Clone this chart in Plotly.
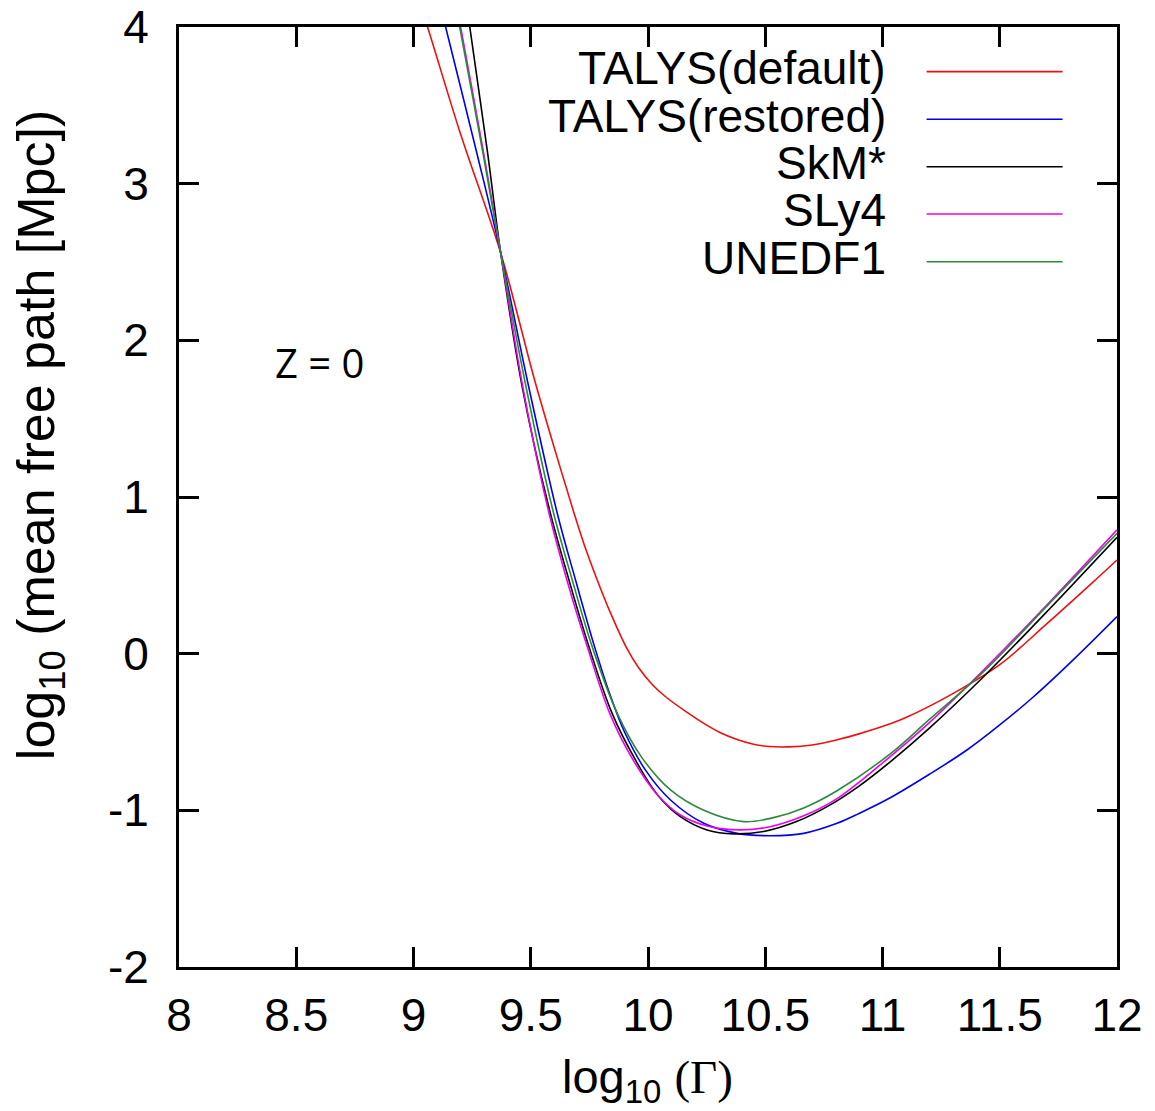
import plotly.graph_objects as go

# ---------------- data (log10 Gamma, log10 mean free path [Mpc]) ----------------
series_names = ["TALYS(default)", "TALYS(restored)", "SkM*", "SLy4", "UNEDF1"]
series_colors = ["#f01010", "#0000ee", "#000000", "#ee00ee", "#2a8a3a"]

talys_default_x = [9.00, 9.06, 9.20, 9.372, 9.514, 9.599, 9.684, 9.727, 9.781, 9.840, 9.911,
                   9.960, 10.020, 10.075, 10.167, 10.238, 10.309, 10.380, 10.450, 10.520,
                   10.600, 10.700, 10.806, 10.900, 11.033, 11.100, 11.300, 11.500, 11.700,
                   11.900, 12.0]
talys_default_y = [4.28, 4.00, 3.32, 2.557, 1.760, 1.321, 0.900, 0.700, 0.480, 0.260, 0.030,
                   -0.090, -0.200, -0.275, -0.375, -0.445, -0.505, -0.548, -0.578, -0.593,
                   -0.595, -0.583, -0.550, -0.512, -0.448, -0.408, -0.255, -0.070, 0.190,
                   0.460, 0.598]

talys_restored_x = [9.08, 9.137, 9.270, 9.372, 9.485, 9.613, 9.691, 9.772, 9.840, 9.900,
                    9.990, 10.096, 10.238, 10.380, 10.522, 10.664, 10.806, 10.900, 11.033,
                    11.200, 11.360, 11.500, 11.644, 11.820, 12.0]
talys_restored_y = [4.35, 4.00, 3.196, 2.557, 1.747, 0.896, 0.470, 0.045, -0.270, -0.500,
                    -0.745, -0.934, -1.083, -1.147, -1.162, -1.147, -1.083, -1.020, -0.920,
                    -0.770, -0.615, -0.455, -0.275, -0.030, 0.236]

skm_x = [9.20, 9.240, 9.316, 9.372, 9.464, 9.578, 9.663, 9.748, 9.847, 9.947, 10.040,
         10.138, 10.252, 10.366, 10.493, 10.636, 10.777, 10.900, 11.033, 11.200, 11.431,
         11.715, 12.0]
skm_y = [4.44, 4.00, 3.196, 2.557, 1.700, 0.930, 0.470, 0.045, -0.381, -0.680, -0.900,
         -1.040, -1.125, -1.150, -1.135, -1.070, -0.965, -0.845, -0.690, -0.475, -0.147,
         0.290, 0.743]

sly4_x = [9.15, 9.201, 9.299, 9.372, 9.464, 9.571, 9.660, 9.741, 9.837, 9.933, 10.040,
          10.138, 10.252, 10.394, 10.520, 10.664, 10.806, 10.990, 11.200, 11.431, 11.715, 12.0]
sly4_y = [4.42, 4.00, 3.196, 2.557, 1.720, 0.940, 0.440, 0.045, -0.381, -0.670, -0.900,
          -1.030, -1.100, -1.125, -1.105, -1.035, -0.925, -0.710, -0.440, -0.104, 0.333, 0.790]

unedf1_x = [9.15, 9.197, 9.296, 9.372, 9.474, 9.592, 9.677, 9.762, 9.869, 9.971, 10.096,
            10.238, 10.408, 10.540, 10.664, 10.806, 11.033, 11.200, 11.431, 11.715, 12.0]
unedf1_y = [4.38, 4.00, 3.196, 2.557, 1.747, 0.930, 0.470, 0.045, -0.381, -0.657, -0.870,
            -1.000, -1.072, -1.045, -0.985, -0.875, -0.640, -0.420, -0.115, 0.326, 0.768]

x_tick_vals = [8, 8.5, 9, 9.5, 10, 10.5, 11, 11.5, 12]
x_tick_text = ["8", "8.5", "9", "9.5", "10", "10.5", "11", "11.5", "12"]
y_tick_vals = [-2, -1, 0, 1, 2, 3, 4]
y_tick_text = ["-2", "-1", "0", "1", "2", "3", "4"]

series_x = [talys_default_x, talys_restored_x, skm_x, sly4_x, unedf1_x]
series_y = [talys_default_y, talys_restored_y, skm_y, sly4_y, unedf1_y]

FONT = "Liberation Sans, Arial, Helvetica, sans-serif"

fig = go.Figure()
for name, color, xs, ys in zip(series_names, series_colors, series_x, series_y):
    fig.add_trace(go.Scatter(x=xs, y=ys, mode="lines", name=name,
                             line=dict(color=color, width=1.6, shape="spline", smoothing=1.0),
                             showlegend=False))

axis_common = dict(showline=True, linewidth=3, linecolor="black", mirror="ticks",
                   ticks="inside", ticklen=20, tickwidth=3, tickcolor="black",
                   showgrid=False, zeroline=False, automargin=False,
                   ticklabeloverflow="allow",
                   tickfont=dict(family=FONT, size=46, color="black"))

fig.update_xaxes(range=[8, 12], tickvals=x_tick_vals, ticktext=x_tick_text,
                 ticklabelstandoff=6, **axis_common)
fig.update_yaxes(range=[-2, 4], tickvals=y_tick_vals, ticktext=y_tick_text,
                 ticklabelstandoff=18, **axis_common)

annotations = []
shapes = []
# manual key: right-aligned text, line sample at right
row_y = [0.9525, 0.9018, 0.8514, 0.8011, 0.7503]
for name, color, ry in zip(series_names, series_colors, row_y):
    annotations.append(dict(xref="paper", yref="paper", x=0.756, y=ry + 0.004,
                            xanchor="right", yanchor="middle", showarrow=False,
                            text=name, font=dict(family=FONT, size=46, color="black")))
    shapes.append(dict(type="line", xref="paper", yref="paper", x0=0.797, x1=0.942,
                       y0=ry, y1=ry, line=dict(color=color, width=1.6)))

annotations.append(dict(xref="x", yref="y", x=8.6, y=1.86, showarrow=False,
                        text="Z = 0", font=dict(family="Open Sans, DejaVu Sans, sans-serif",
                                                size=40, color="black")))

annotations.append(dict(xref="paper", yref="paper", x=0.4996, y=-0.12,
                        xanchor="center", yanchor="middle", showarrow=False,
                        text="log<sub>10</sub> <span style=\"font-family:'Liberation Serif', 'Times New Roman', serif\">(Γ)</span>",
                        font=dict(family=FONT, size=47, color="black")))
annotations.append(dict(xref="paper", yref="paper", x=-0.148, y=0.566,
                        xanchor="center", yanchor="middle", showarrow=False, textangle=-90,
                        text="log<sub>10</sub> (mean free path [Mpc])",
                        font=dict(family=FONT, size=52, color="black")))

fig.update_layout(width=1155, height=1111,
                  margin=dict(l=179, r=38, t=27, b=144, autoexpand=False),
                  paper_bgcolor="white", plot_bgcolor="white",
                  annotations=annotations, shapes=shapes)

# remove the browser's default 8px body margin so the figure sits at the page corner
fig.write_html("out.html", config={"displayModeBar": False},
               post_script="document.body.style.margin='0';document.body.style.overflow='hidden';")
